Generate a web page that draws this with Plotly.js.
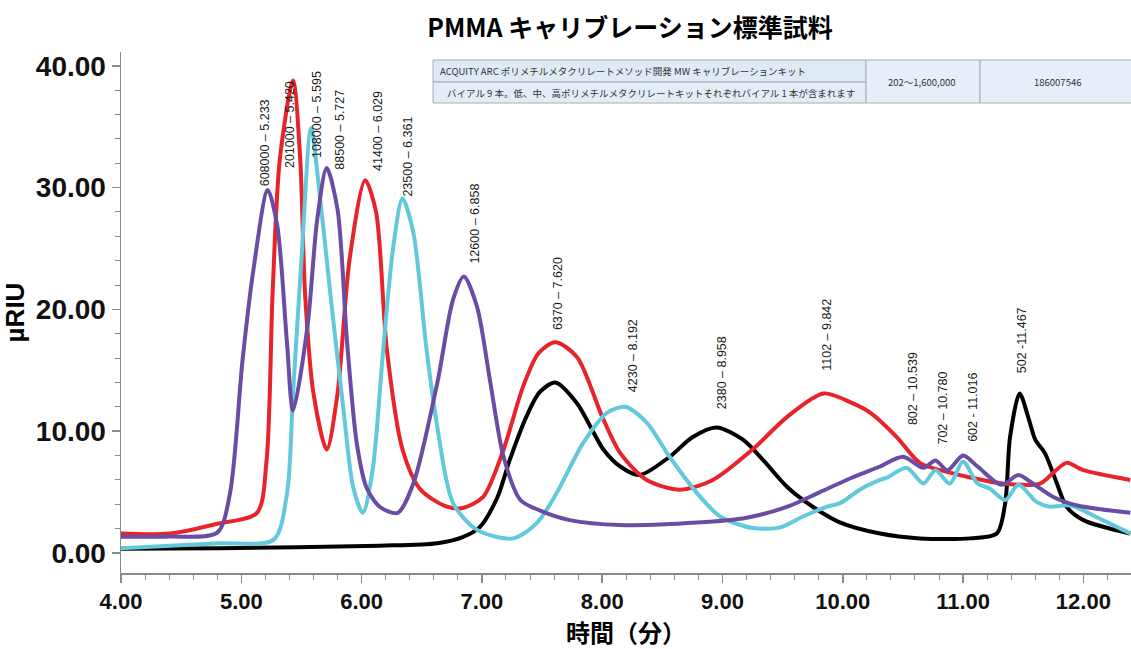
<!DOCTYPE html>
<html>
<head>
<meta charset="utf-8">
<script src="https://cdn.plot.ly/plotly-3.0.1.min.js"></script>
<style>html,body{margin:0;padding:0;background:#fff;}#chart{width:1131px;height:649px;}</style>
</head>
<body>
<div id="chart"></div>
<script>
// ---- data (retention time in minutes, signal in µRIU) ----
const blackTime = [4.0, 4.82, 6.15, 6.63, 6.84, 6.98, 7.13, 7.23, 7.37, 7.48, 7.61, 7.79, 8.01, 8.15, 8.31, 8.56, 8.75, 8.95, 9.17, 9.34, 9.54, 9.75, 9.98, 10.31, 10.64, 11.06, 11.28, 11.35, 11.39, 11.47, 11.54, 11.60, 11.68, 11.78, 11.86, 12.0, 12.39];
const blackSignal = [0.35, 0.4, 0.6, 0.8, 1.3, 2.1, 4.6, 7.6, 11.2, 13.2, 14.0, 12.3, 8.5, 7.1, 6.4, 7.9, 9.5, 10.3, 9.3, 7.6, 5.4, 3.8, 2.5, 1.6, 1.2, 1.2, 1.6, 4.1, 9.5, 13.1, 11.2, 9.3, 8.2, 5.7, 3.8, 2.7, 1.6];

const redTime = [4.0, 4.41, 4.80, 5.13, 5.21, 5.26, 5.32, 5.43, 5.49, 5.53, 5.60, 5.71, 5.80, 5.90, 6.03, 6.12, 6.21, 6.34, 6.49, 6.71, 6.84, 7.01, 7.18, 7.34, 7.47, 7.61, 7.79, 8.0, 8.15, 8.37, 8.65, 8.92, 9.25, 9.54, 9.84, 10.08, 10.23, 10.45, 10.64, 10.89, 11.06, 11.33, 11.64, 11.75, 11.86, 12.0, 12.39];
const redSignal = [1.6, 1.6, 2.4, 3.3, 7.6, 21.3, 32.3, 38.8, 32.3, 21.3, 13.1, 8.5, 13.1, 24.1, 30.6, 28.0, 16.7, 8.5, 5.2, 3.8, 3.7, 4.6, 8.5, 13.6, 16.4, 17.3, 16.1, 11.2, 8.2, 6.0, 5.2, 6.0, 8.5, 11.2, 13.1, 12.3, 11.5, 9.5, 7.4, 6.6, 6.2, 5.7, 5.7, 6.6, 7.4, 6.8, 6.0];

const cyanTime = [4.0, 4.82, 5.27, 5.38, 5.43, 5.50, 5.58, 5.65, 5.74, 5.85, 5.93, 6.01, 6.09, 6.18, 6.26, 6.34, 6.43, 6.54, 6.63, 6.76, 6.96, 7.26, 7.46, 7.62, 7.84, 8.04, 8.19, 8.37, 8.56, 8.79, 8.98, 9.25, 9.48, 9.67, 9.87, 9.98, 10.14, 10.31, 10.37, 10.53, 10.67, 10.77, 10.89, 11.0, 11.12, 11.22, 11.35, 11.46, 11.61, 11.72, 11.89, 12.16, 12.39];
const cyanSignal = [0.4, 0.8, 1.1, 4.9, 13.1, 24.1, 34.9, 29.6, 21.3, 11.7, 5.4, 3.3, 6.7, 16.7, 24.9, 29.1, 26.3, 16.7, 10.3, 4.1, 1.9, 1.2, 2.5, 4.9, 9.0, 11.5, 12.0, 10.7, 7.9, 4.9, 3.0, 2.05, 2.1, 3.0, 3.8, 4.1, 5.2, 6.0, 6.2, 7.0, 5.7, 6.8, 5.7, 7.5, 5.7, 5.3, 4.35, 5.6, 4.2, 3.8, 3.9, 2.7, 1.6];

const purpleTime = [4.0, 4.4, 4.80, 4.906, 5.01, 5.10, 5.22, 5.30, 5.38, 5.43, 5.55, 5.63, 5.71, 5.80, 5.88, 5.96, 6.04, 6.15, 6.30, 6.43, 6.63, 6.76, 6.85, 6.96, 7.07, 7.18, 7.32, 7.48, 7.73, 8.15, 8.79, 9.20, 9.54, 9.81, 10.08, 10.31, 10.50, 10.67, 10.77, 10.87, 11.0, 11.12, 11.32, 11.46, 11.58, 11.75, 11.95, 12.39];
const purpleSignal = [1.34, 1.35, 1.67, 4.9, 15.8, 23.2, 29.8, 26.8, 17.2, 11.7, 18.6, 27.3, 31.6, 28.2, 17.2, 9.0, 5.4, 3.8, 3.3, 5.7, 14.0, 20.8, 22.7, 20.2, 14.0, 7.9, 4.35, 3.5, 2.7, 2.3, 2.5, 2.9, 3.8, 5.0, 6.2, 7.1, 7.9, 7.0, 7.6, 6.8, 8.0, 7.1, 5.6, 6.4, 5.7, 4.6, 3.9, 3.3];

// peak labels: "MW – retention time", anchored above each peak
const peakLabels = ["608000 – 5.233", "201000 – 5.420", "108000 – 5.595", "88500 – 5.727", "41400 – 6.029", "23500 – 6.361", "12600 – 6.858", "6370 – 7.620", "4230 – 8.192", "2380 – 8.958", "1102 – 9.842", "802 – 10.539", "702 – 10.780", "602 - 11.016", "502 -11.467"];
const labelTime = [5.197, 5.405, 5.629, 5.820, 6.136, 6.386, 6.943, 7.633, 8.256, 8.996, 9.869, 10.584, 10.833, 11.082, 11.490];
const labelHeight = [29.9, 31.4, 32.3, 31.3, 31.2, 29.1, 23.6, 18.1, 13.0, 11.6, 14.8, 10.3, 8.7, 9.0, 14.6];

// table content
const tableRow1 = "ACQUITY ARC ポリメチルメタクリレートメソッド開発 MW キャリブレーションキット";
const tableRow2 = "バイアル 9 本。低、中、高ポリメチルメタクリレートキットそれぞれバイアル 1 本が含まれます";
const tableRange = "202～1,600,000";
const tablePart = "186007546";

const titleText = "PMMA キャリブレーション標準試料";
const xTitle = "時間（分）";
const yTitle = "µRIU";

// ---- layout geometry ----
const W = 1131, H = 649;
const M = {l: 121, r: 0, t: 52, b: 76};
const pw = W - M.l - M.r, ph = H - M.t - M.b;
const px = v => (v - M.l) / pw;
const py = v => (H - M.b - v) / ph;

const lineW = 4;
function series(t, s, color) {
  return {x: t, y: s, type: 'scatter', mode: 'lines', line: {color: color, width: lineW, shape: 'spline', smoothing: 0.8}, hoverinfo: 'skip'};
}
const data = [
  series(blackTime, blackSignal, '#000000'),
  series(redTime, redSignal, '#e8232a'),
  series(cyanTime, cyanSignal, '#62c8dc'),
  series(purpleTime, purpleSignal, '#6a4ca5')
];

const annotations = peakLabels.map((txt, i) => ({
  x: labelTime[i], y: labelHeight[i], xref: 'x', yref: 'y',
  text: txt, textangle: -90, showarrow: false,
  xanchor: 'center', yanchor: 'bottom',
  font: {family: 'Liberation Sans, Arial, sans-serif', size: 12.5, color: '#1a1a1a'}
}));

const cjk = '"Noto Sans CJK JP", "Liberation Sans", sans-serif';
const tFont = {family: cjk, size: 9.5, color: '#333'};
annotations.push(
  {x: px(438), y: py(71), xref: 'paper', yref: 'paper', text: tableRow1, showarrow: false, xanchor: 'left', yanchor: 'middle', font: tFont},
  {x: px(445), y: py(93), xref: 'paper', yref: 'paper', text: tableRow2, showarrow: false, xanchor: 'left', yanchor: 'middle', font: tFont},
  {x: px(922), y: py(82), xref: 'paper', yref: 'paper', text: tableRange, showarrow: false, xanchor: 'center', yanchor: 'middle', font: tFont},
  {x: px(1057), y: py(82), xref: 'paper', yref: 'paper', text: tablePart, showarrow: false, xanchor: 'center', yanchor: 'middle', font: tFont}
);

const cell = (x0, y0, x1, y1, fill) => ({type: 'rect', xref: 'paper', yref: 'paper', x0: px(x0), x1: px(x1), y0: py(y1), y1: py(y0), fillcolor: fill, line: {color: '#a8adb3', width: 1}, layer: 'above'});
const shapes = [
  cell(433, 60, 866, 82, '#dfeaf5'),
  cell(433, 82, 866, 103, '#e3edf7'),
  cell(866, 60, 980, 103, '#e6eff8'),
  cell(980, 60, 1140, 103, '#e6eff8')
];

const layout = {
  width: W, height: H,
  margin: {l: M.l, r: M.r, t: M.t, b: M.b, pad: 0},
  paper_bgcolor: '#ffffff', plot_bgcolor: '#ffffff',
  showlegend: false,
  font: {family: 'Liberation Sans, Arial, sans-serif'},
  title: {text: '<b>' + titleText + '</b>', x: 630 / W, xref: 'container', xanchor: 'center', y: 1 - 28 / H, yref: 'container', yanchor: 'middle', font: {family: cjk, size: 25, color: '#000'}},
  xaxis: {
    range: [4, 4 + pw / 120.3], dtick: 1, tick0: 4, tickformat: '.2f',
    showgrid: false, zeroline: false, showline: true, linecolor: '#8a8a8a', linewidth: 1.5,
    ticks: 'outside', ticklen: 8, tickcolor: '#8a8a8a', tickwidth: 1.5,
    minor: {dtick: 0.2, ticks: 'outside', ticklen: 5, tickcolor: '#8a8a8a', tickwidth: 1, showgrid: false},
    tickfont: {family: 'Liberation Sans, Arial, sans-serif', size: 22, color: '#111', weight: 'bold'},
    title: {text: '<b>' + xTitle + '</b>', standoff: 8, font: {family: cjk, size: 24, color: '#000'}}
  },
  yaxis: {
    range: [-20 / 12.18, -20 / 12.18 + ph / 12.18], dtick: 10, tick0: 0, tickformat: '.2f',
    showgrid: false, zeroline: false, showline: true, linecolor: '#8a8a8a', linewidth: 1.5,
    ticks: 'outside', ticklen: 8, tickcolor: '#8a8a8a', tickwidth: 1.5,
    minor: {dtick: 2, ticks: 'outside', ticklen: 5, tickcolor: '#8a8a8a', tickwidth: 1, showgrid: false},
    tickfont: {family: 'Liberation Sans, Arial, sans-serif', size: 28, color: '#111', weight: 'bold'},
    title: {text: '<b>' + yTitle + '</b>', standoff: 6, font: {family: 'Liberation Sans, Arial, sans-serif', size: 26, color: '#000'}}
  },
  annotations: annotations,
  shapes: shapes
};

Plotly.newPlot('chart', data, layout, {staticPlot: true, displayModeBar: false});
</script>
</body>
</html>
